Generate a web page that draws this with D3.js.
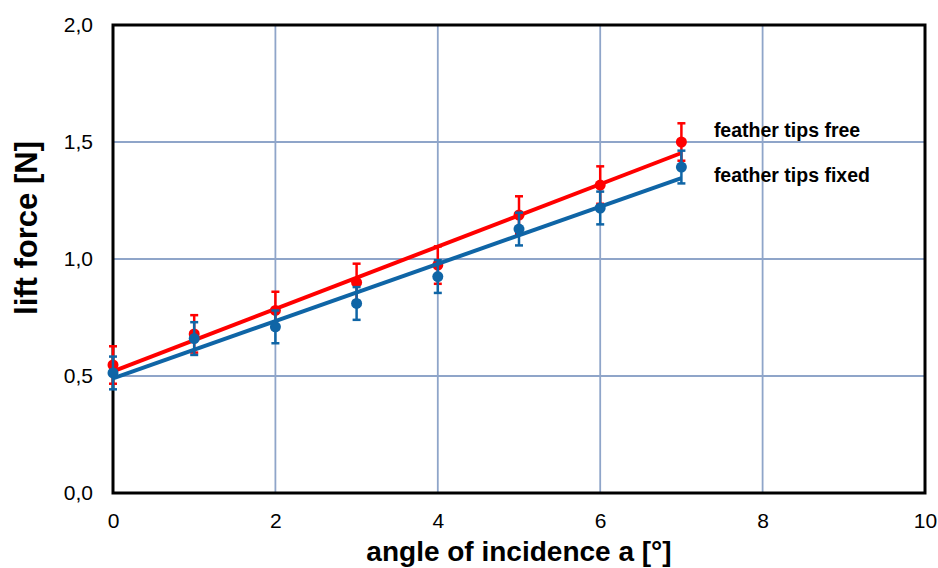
<!DOCTYPE html>
<html>
<head>
<meta charset="utf-8">
<script src="https://cdn.jsdelivr.net/npm/d3@7"></script>
<style>
  body { margin: 0; background: #fff; }
  text { font-family: "Liberation Sans", Arial, sans-serif; }
</style>
</head>
<body>
<div id="chart"></div>
<script>
// data
var angles = [0, 1, 2, 3, 4, 5, 6, 7]
var liftFree = [0.547, 0.68, 0.78, 0.90, 0.974, 1.188, 1.316, 1.50]
var errFree = [0.08, 0.08, 0.08, 0.08, 0.08, 0.08, 0.08, 0.08]
var liftFixed = [0.513, 0.66, 0.71, 0.81, 0.925, 1.128, 1.218, 1.393]
var errFixed = [0.07, 0.07, 0.07, 0.07, 0.07, 0.07, 0.07, 0.07]
// trend lines (start / end values at angle 0 and 7)
var trendX = [0, 7]
var trendFree = [0.52, 1.453]
var trendFixed = [0.49, 1.346]
var xTicks = [0, 2, 4, 6, 8, 10]
var yTicks = [0, 0.5, 1.0, 1.5, 2.0]
var seriesNames = ["feather tips free", "feather tips fixed"]

var width = 938, height = 568
var margin = {top: 25, right: 13, bottom: 75, left: 113}
var w = width - margin.left - margin.right,
    h = height - margin.top - margin.bottom

var svg = d3.select("#chart").append("svg")
  .attr("width", width)
  .attr("height", height)

var chart = svg.append("g")
  .attr("transform", "translate(" + margin.left + "," + margin.top + ")")

var x = d3.scaleLinear().domain([0, 10]).range([0, w])
var y = d3.scaleLinear().domain([0, 2]).range([h, 0])

var fmt = d => d3.format(".1f")(d).replace(".", ",")

// grid
chart.append("g")
  .selectAll("line")
  .data(xTicks)
  .enter().append("line")
  .attr("x1", d => x(d)).attr("x2", d => x(d))
  .attr("y1", 0).attr("y2", h)
  .attr("stroke", "#8FA5C9").attr("stroke-width", 1.8)

chart.append("g")
  .selectAll("line")
  .data(yTicks)
  .enter().append("line")
  .attr("x1", 0).attr("x2", w)
  .attr("y1", d => y(d)).attr("y2", d => y(d))
  .attr("stroke", "#8FA5C9").attr("stroke-width", 1.8)

// axes labels (no tick lines)
var xAxis = chart.append("g")
  .attr("transform", "translate(0," + h + ")")
  .call(d3.axisBottom(x).tickValues(xTicks).tickSize(0).tickPadding(20).tickFormat(d3.format("d")))
xAxis.select(".domain").remove()
xAxis.selectAll("text").attr("font-size", 21).attr("fill", "#000")
  .attr("font-family", "Liberation Sans, Arial, sans-serif")

var yAxis = chart.append("g")
  .call(d3.axisLeft(y).tickValues(yTicks).tickSize(0).tickPadding(20).tickFormat(fmt))
yAxis.select(".domain").remove()
yAxis.selectAll("text").attr("font-size", 21).attr("fill", "#000")
  .attr("font-family", "Liberation Sans, Arial, sans-serif")

// frame
chart.append("rect")
  .attr("x", 0).attr("y", 0).attr("width", w).attr("height", h)
  .attr("fill", "none").attr("stroke", "#000").attr("stroke-width", 3)

var series = [
  {name: seriesNames[0], vals: liftFree, err: errFree, trend: trendFree, color: "#FF0000"},
  {name: seriesNames[1], vals: liftFixed, err: errFixed, trend: trendFixed, color: "#0F65A6"}
]

var line = d3.line().x(d => x(d[0])).y(d => y(d[1]))

series.forEach(function(s) {
  var g = chart.append("g")
  var pts = angles.map((a, i) => ({a: a, v: s.vals[i], e: s.err[i]}))

  // error bars
  g.selectAll(".eb").data(pts).enter().append("line")
    .attr("x1", d => x(d.a)).attr("x2", d => x(d.a))
    .attr("y1", d => y(d.v - d.e)).attr("y2", d => y(d.v + d.e))
    .attr("stroke", s.color).attr("stroke-width", 2.5)
  g.selectAll(".capt").data(pts).enter().append("line")
    .attr("x1", d => x(d.a) - 4).attr("x2", d => x(d.a) + 4)
    .attr("y1", d => y(d.v + d.e)).attr("y2", d => y(d.v + d.e))
    .attr("stroke", s.color).attr("stroke-width", 2.5)
  g.selectAll(".capb").data(pts).enter().append("line")
    .attr("x1", d => x(d.a) - 4).attr("x2", d => x(d.a) + 4)
    .attr("y1", d => y(d.v - d.e)).attr("y2", d => y(d.v - d.e))
    .attr("stroke", s.color).attr("stroke-width", 2.5)

  // trend line
  g.append("path")
    .datum(trendX.map((t, i) => [t, s.trend[i]]))
    .attr("d", line)
    .attr("fill", "none").attr("stroke", s.color).attr("stroke-width", 4)

  // markers
  g.selectAll("circle").data(pts).enter().append("circle")
    .attr("cx", d => x(d.a)).attr("cy", d => y(d.v))
    .attr("r", 5.5).attr("fill", s.color)
})

// series labels
chart.selectAll(".lbl")
  .data(seriesNames)
  .enter().append("text")
  .attr("x", x(7.4))
  .attr("y", (d, i) => y(1.5) - 5 + i * 45)
  .attr("font-size", 19.5).attr("font-weight", "bold")
  .text(d => d)

// axis titles
svg.append("text")
  .attr("x", margin.left + w / 2)
  .attr("y", 561)
  .attr("text-anchor", "middle")
  .attr("font-size", 28).attr("font-weight", "bold")
  .text("angle of incidence a [°]")

svg.append("text")
  .attr("transform", "translate(37,228) rotate(-90)")
  .attr("text-anchor", "middle")
  .attr("font-size", 31).attr("font-weight", "bold")
  .text("lift force [N]")
</script>
</body>
</html>
